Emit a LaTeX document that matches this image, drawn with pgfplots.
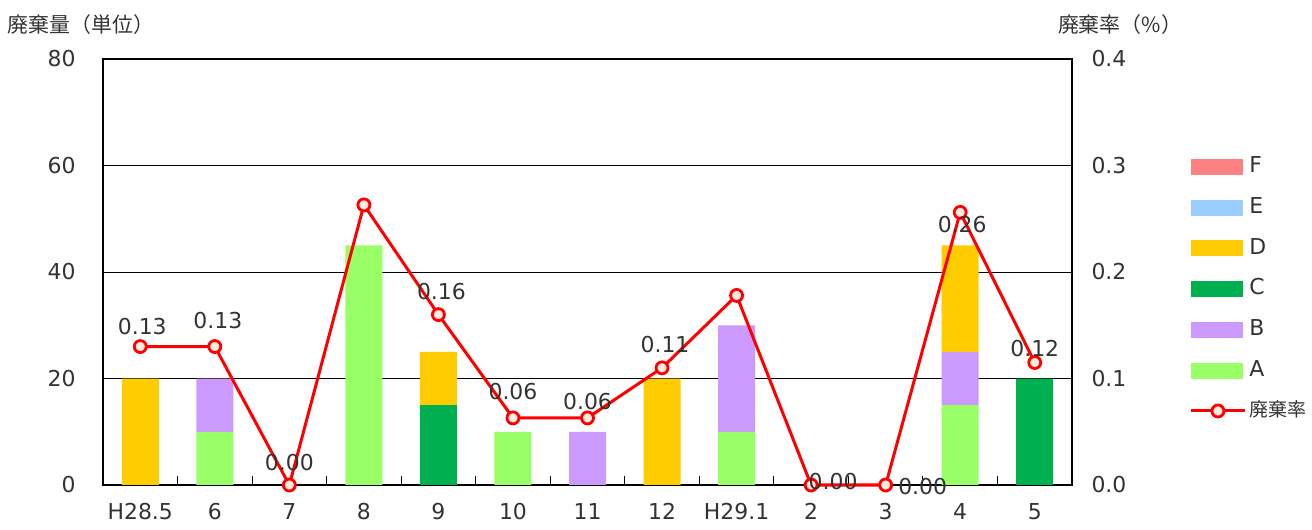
\documentclass[border=0pt]{standalone}
\usepackage{pgfplots}
\pgfplotsset{compat=1.18}
\usepackage{pgfplotstable}
\usepackage{fontspec}
\setmainfont{DejaVu Sans}
\newfontfamily\jp{Noto Sans CJK JP}
\definecolor{cA}{HTML}{99FF66}
\definecolor{cB}{HTML}{CC99FF}
\definecolor{cC}{HTML}{00B050}
\definecolor{cD}{HTML}{FFCC00}
\definecolor{cE}{HTML}{99CCFF}
\definecolor{cF}{HTML}{FF8080}
\definecolor{mk}{HTML}{FDEBE0}
\definecolor{txt}{HTML}{333333}
\newcommand{\fs}{\fontsize{22}{26}\selectfont}
\newcommand{\jfs}{\fontsize{21}{25}\selectfont}
\newcommand{\lfs}{\fontsize{19}{23}\selectfont}

\pgfplotstableread{
x A B C D E F
0 0 0 0 20 0 0
1 10 10 0 0 0 0
2 0 0 0 0 0 0
3 45 0 0 0 0 0
4 0 0 15 10 0 0
5 10 0 0 0 0 0
6 0 10 0 0 0 0
7 0 0 0 20 0 0
8 10 20 0 0 0 0
9 0 0 0 0 0 0
10 0 0 0 0 0 0
11 15 10 0 20 0 0
12 0 0 20 0 0 0
}\bars

\pgfplotstableread{
x r lab dx dy
0 0.13 0.13 2 20
1 0.13 0.13 3 26
2 0.00 0.00 0 22
3 0.263 {} 0 0
4 0.16 0.16 3 23
5 0.063 0.06 0 26
6 0.063 0.06 0 16
7 0.11 0.11 3 23
8 0.178 {} 0 0
9 0.00 0.00 22 3
10 0.00 0.00 37 -2
11 0.256 0.26 2 -12
12 0.115 0.12 0 14
}\rate

\pgfplotsset{
  lineleg/.style={legend image code/.code={\draw[mark repeat=2,mark phase=2,##1] plot coordinates {(0bp,0bp) (27bp,0bp) (54bp,0bp)};}},
  barleg/.style={legend image code/.code={\fill[#1] (0bp,-7.5bp) rectangle (51bp,7.5bp);}},
  base/.style={
    at={(103bp,45bp)}, anchor=south west,
    scale only axis, width=969bp, height=426bp,
    xmin=-0.5, xmax=12.5,
    /pgf/number format/assume math mode=true,
    font=\fs,
    tick label style={font=\fs, text=txt},
    major tick length=0pt,
    axis line style={black, line width=1.2bp},
  }
}

\begin{document}
\begin{tikzpicture}
\useasboundingbox (0bp,0bp) rectangle (1312bp,530bp);
\begin{axis}[base,
  ymin=0, ymax=80,
  ybar stacked, bar width=37bp,
  xtick={0,...,12},
  xticklabels={H28.5,6,7,8,9,10,11,12,H29.1,2,3,4,5},
  minor xtick={0.5,1.5,...,11.5},
  xtick pos=bottom, tick align=inside,
  minor tick length=9bp,
  minor tick style={black, line width=1bp},
  xticklabel style={yshift=-15bp},
  ytick={0,20,40,60,80}, ytick pos=left,
  yticklabel style={xshift=-24bp},
  ymajorgrids, grid style={black, line width=0.8bp},
]
\addplot[fill=cA, draw=none] table[x=x,y=A]{\bars};
\addplot[fill=cB, draw=none] table[x=x,y=B]{\bars};
\addplot[fill=cC, draw=none] table[x=x,y=C]{\bars};
\addplot[fill=cD, draw=none] table[x=x,y=D]{\bars};
\addplot[fill=cE, draw=none] table[x=x,y=E]{\bars};
\addplot[fill=cF, draw=none] table[x=x,y=F]{\bars};
\end{axis}
\begin{axis}[base,
  ymin=0, ymax=0.4,
  axis x line=none, axis y line*=right,
  ytick={0,0.1,0.2,0.3,0.4},
  yticklabel style={/pgf/number format/fixed, /pgf/number format/fixed zerofill, /pgf/number format/precision=1, xshift=16bp},
  clip=false,
  legend style={at={(rel axis cs:1.121,0.778)}, anchor=north west, draw=none, fill=none,
    inner sep=0pt, row sep=14.7bp, font=\fs,
    nodes={inner sep=3bp, text height=16bp, text depth=4bp, text=txt}},
  legend cell align=left,
]
\addlegendimage{barleg=cF}
\addlegendimage{barleg=cE}
\addlegendimage{barleg=cD}
\addlegendimage{barleg=cC}
\addlegendimage{barleg=cB}
\addlegendimage{barleg=cA}
\addplot[red, line width=3bp, mark=*, mark size=6bp,
  mark options={fill=mk, draw=red, line width=2.8bp}, lineleg,
  nodes near coords, point meta=explicit symbolic,
  visualization depends on={\thisrow{dx}\as\dx},
  visualization depends on={\thisrow{dy}\as\dy},
  every node near coord/.append style={anchor=center, xshift=\dx bp, yshift=\dy bp, text=txt, font=\fs}]
  table[x=x, y=r, meta=lab]{\rate};
\legend{F,E,D,C,B,A,{\jp\lfs 廃棄率}}
\end{axis}
\node[font=\jp\jfs, text=txt] at (81bp,505bp) {廃棄量（単位）};
\node[font=\jp\jfs, text=txt] at (1120bp,505bp) {廃棄率（\%）};
\end{tikzpicture}
\end{document}
